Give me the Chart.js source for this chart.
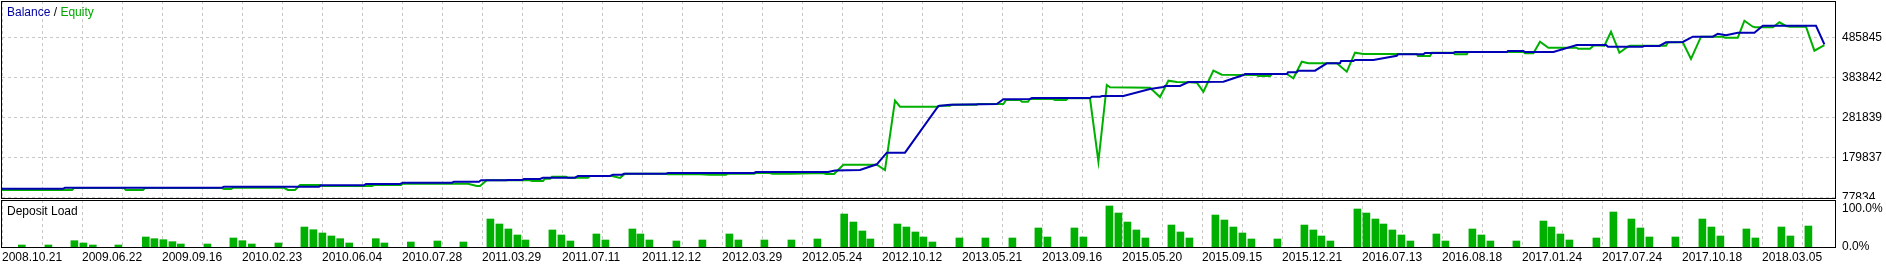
<!DOCTYPE html>
<html>
<head>
<meta charset="utf-8">
<script src="https://cdn.jsdelivr.net/npm/chart.js@4"></script>
<style>
	body { margin: 0; background: #fff; width: 1886px; height: 264px; overflow: hidden; position: relative;
		font-family: 'Liberation Sans', Arial, sans-serif; font-size: 12px; }
	canvas { position: absolute; left: 0; }
	#balance-chart { top: 0; }
	#load-chart { top: 199px; }
	.caption { position: absolute; left: 7px; line-height: 14px; white-space: pre; color: #000; }
</style>
</head>
<body>
<canvas id="balance-chart" width="1886" height="199"></canvas>
<canvas id="load-chart" width="1886" height="65"></canvas>
<div class="caption" style="top:5px"><span style="color:#0000a0">Balance</span> / <span style="color:#00a800">Equity</span></div>
<div class="caption" style="top:204px">Deposit Load</div>
<script>
// deal dates shown under every second grid line
var dates = ['2008.10.21', '2009.06.22', '2009.09.16', '2010.02.23', '2010.06.04', '2010.07.28',
	'2011.03.29', '2011.07.11', '2011.12.12', '2012.03.29', '2012.05.24', '2012.10.12', '2013.05.21',
	'2013.09.16', '2015.05.20', '2015.09.15', '2015.12.21', '2016.07.13', '2016.08.18', '2017.01.24',
	'2017.07.24', '2017.10.18', '2018.03.05']
var money_ticks = [77834, 179837, 281839, 383842, 485845]
var load_ticks = [0, 100]

// balance curve, deal number -> money
var balance_deal = [0, 30.5, 31.5, 110, 111, 158.5, 159.5, 181, 182, 199, 200.5, 225, 226, 238.5, 239.5, 252, 253, 260, 261, 269,
	270.5, 286.5, 288, 304, 305.5, 310, 311, 332, 333, 376, 377, 413, 416.5, 429, 437.4, 442.4, 451.5, 468.2, 474, 497.4,
	500.7, 514, 515, 544, 545, 549, 550, 560.7, 574, 580.7, 581.5, 589, 593.2, 610.7, 620.7, 621.5, 642.4, 643, 647.4, 648,
	656.5, 662.4, 669, 669.5, 675.7, 676.5, 685.7, 697.4, 698, 710.7, 711.5, 725.7, 726.5, 752.4, 753, 760.7, 761.5, 775.7, 787.4, 802,
	803, 820.4, 821, 828.7, 832, 840.4, 845.4, 855.4, 857.9, 862, 867.9, 876.2, 880.4, 907, 911.2]
var balance = [100000, 100000, 102800, 102800, 105400, 105400, 108900, 108900, 112300, 112300, 115600, 115600, 118100, 118100, 121700, 121700, 122500, 122500, 125000, 125000,
	128300, 128300, 132700, 132700, 136000, 136000, 138500, 138500, 140300, 140300, 142900, 142900, 146700, 148000, 162500, 192100, 192100, 311200, 314500, 316300,
	328300, 329000, 331600, 331600, 334900, 334900, 336700, 336700, 354500, 359600, 362200, 362200, 372400, 373100, 390200, 392800, 392800, 397100, 397100, 401200,
	401200, 420100, 420100, 425900, 425900, 428500, 428500, 439400, 443000, 443000, 446300, 446300, 448900, 448900, 451400, 451400, 448900, 448900, 466700, 466700,
	462400, 462400, 464200, 464200, 473600, 474400, 487900, 487900, 495500, 491500, 498100, 498100, 515900, 515900, 468500]

// equity curve
var equity_deal = [0, 35, 36, 61, 62, 70.5, 71.5, 110, 111, 114.5, 115.5, 141, 143, 146.5, 149, 159, 160, 185, 186, 199.5,
	200.5, 233, 237.4, 239, 242.4, 264, 265, 270.5, 271.5, 274, 275, 282, 283, 293, 294, 305, 309, 311.5, 332, 333,
	349, 354, 362, 363, 376, 377, 384, 385, 394, 410.5, 412, 416, 420.7, 437.4, 441.5, 446.5, 449, 468, 469, 474,
	475, 487.4, 488, 500.7, 502, 509, 510, 513, 514, 525.5, 526.5, 532, 533, 544, 548.2, 552.4, 554, 574, 579, 583.2,
	587.4, 594, 597.4, 600.7, 605.7, 609.9, 627.4, 628, 634, 635, 642.4, 645.7, 649.9, 653.2, 667.4, 672.4, 676.5, 680.7, 707.4, 708,
	714, 715, 725.7, 726.5, 732.4, 733, 760.7, 761.5, 765.7, 769, 773.2, 787.4, 788, 794, 796, 801.2, 804.5, 808.7, 812.9, 814,
	832, 833, 840.4, 844.5, 849.5, 860.4, 861.5, 867.9, 871.2, 875.4, 876.5, 885.4, 888.7, 892, 894, 902, 906.2, 911.2]
var equity = [97000, 97000, 102100, 102100, 97000, 97000, 102100, 102100, 99500, 99500, 102600, 102600, 97000, 97000, 109700, 109700, 107200, 107200, 109700, 109700,
	113000, 113000, 107200, 107200, 121700, 121700, 119900, 119900, 125800, 125800, 130900, 130900, 128300, 128300, 132700, 132700, 127600, 138500, 138500, 137000,
	137000, 136000, 136000, 138500, 138500, 140300, 140300, 138500, 138500, 140300, 137800, 137800, 161500, 161500, 148000, 324700, 309400, 309400, 311900, 311900,
	314500, 314500, 316300, 316300, 326500, 326500, 322100, 322100, 329000, 329000, 326500, 326500, 330800, 330800, 169100, 364700, 358900, 357800, 334100, 375700,
	372400, 371600, 370600, 347600, 401200, 391000, 390200, 387700, 387700, 392800, 392800, 381800, 424100, 420100, 420100, 398600, 447100, 443800, 443800, 438700,
	438700, 447100, 447100, 443000, 443000, 448900, 448900, 445600, 445600, 475100, 459800, 459800, 457300, 457300, 466000, 464900, 500600, 447100, 462400, 464900,
	464900, 473600, 473600, 431000, 487900, 487900, 485300, 485300, 528700, 513400, 511900, 511900, 524600, 515200, 513400, 513400, 452200, 466700]

// deposit load bars, percent
var load_deal = [9.9, 23.2, 36.2, 40.7, 45.4, 58.2, 71.9, 76.2, 80.7, 85.2, 89.4, 102.7, 115.7, 120.2, 124.9, 138.2, 151.2, 155.7, 160.2, 164.7,
	169.1, 173.6, 186.9, 191.2, 204.4, 217.7, 230.7, 244.2, 248.7, 253.2, 257.7, 261.7, 275.2, 279.7, 284.2, 297.2, 301.7, 315.2, 319.2, 323.7,
	337.2, 350.2, 363.7, 368.2, 381.2, 394.7, 407.7, 421.1, 425.7, 430.2, 434.2, 447.7, 452.2, 456.7, 460.7, 465.2, 478.7, 491.7, 505.2, 518.2,
	522.7, 536.2, 540.7, 553.7, 558.2, 562.7, 567.2, 571.7, 584.7, 589.2, 593.7, 606.7, 611.2, 615.7, 620.2, 624.7, 637.7, 651.2, 655.7, 659.7,
	664.2, 677.7, 682.2, 686.7, 690.7, 695.2, 699.7, 704.2, 717.2, 721.7, 735.2, 739.7, 744.2, 757.2, 770.7, 774.7, 779.2, 783.7, 797.2, 805.7,
	814.7, 819.2, 823.7, 836.7, 850.2, 854.7, 859.2, 872.2, 876.7, 889.7, 894.2, 903.2]
var load = [5.2, 5.2, 16.4, 10.4, 5.2, 5.2, 26, 21.6, 19, 13.8, 7.8, 7.8, 23.4, 16.4, 7.8, 10.4, 51.9, 44.9, 36.4, 28.6,
	21.6, 10.4, 21.6, 10.4, 13, 15.6, 13, 72.7, 59.7, 46.8, 31.2, 18.2, 44.2, 31.2, 15.6, 33.8, 18.2, 46.8, 33.8, 18.2,
	15.6, 18.2, 33.8, 18.2, 18.2, 18.2, 20.8, 85.7, 64.9, 41.6, 20.8, 59.7, 51.9, 39, 26, 13, 23.4, 23.4, 23.4, 49.4,
	26, 49.4, 26, 106.5, 88.3, 64.9, 44.2, 23.4, 57.1, 39, 23.4, 83.1, 70.1, 51.9, 36.4, 20.8, 20.8, 57.1, 44.2, 28.6,
	15.6, 98.7, 88.3, 72.7, 59.7, 44.2, 31.2, 15.6, 33.8, 15.6, 46.8, 31.2, 15.6, 15.6, 67.5, 51.9, 33.8, 18.2, 23.4, 90.9,
	72.7, 49.4, 26, 26, 72.7, 51.9, 28.6, 46.8, 23.4, 51.9, 28.6, 54.5]

var GRID = '#c8c8c8'
var BLUE = '#0000b4'
var GREEN = '#00b000'
var FONT = { family: "'Liberation Sans', Arial, sans-serif", size: 12 }

var grid_deals = []
for (var d = 0; d <= 900; d += 20) grid_deals.push(d)

function points(xs, ys) {
	return xs.map((x, i) => ({ x: x, y: ys[i] }))
}

// black frame round each panel
var frame = {
	id: 'frame',
	afterDraw: function(chart) {
		var a = chart.chartArea
		var ctx = chart.ctx
		ctx.save()
		ctx.strokeStyle = '#000'
		ctx.lineWidth = 1
		ctx.strokeRect(a.left - 0.5, a.top + 0.5, a.right - a.left, a.bottom - a.top)
		ctx.restore()
	}
}

function deal_axis(show_labels) {
	return {
		type: 'linear', min: 0, max: 917, offset: false,
		grid: { color: GRID, drawTicks: false, offset: false },
		border: { display: false, dash: [3, 3] },
		ticks: {
			display: show_labels, autoSkip: false, maxRotation: 0, minRotation: 0,
			align: 'start', padding: 3, color: '#000', font: FONT,
			callback: (v) => v % 40 === 0 ? dates[v / 40] : ''
		},
		afterBuildTicks: (s) => { s.ticks = grid_deals.map((v) => ({ value: v })) },
		afterFit: (s) => { s.height = show_labels ? 17 : 0; s.paddingLeft = 0; s.paddingRight = 0 }
	}
}

function value_axis(min, max, values, fmt, show_grid) {
	return {
		position: 'right', min: min, max: max,
		grid: { display: show_grid, color: GRID, drawTicks: false },
		border: { display: false, dash: [3, 3] },
		ticks: { padding: 6, color: '#000', font: FONT, autoSkip: false, callback: fmt },
		afterBuildTicks: (s) => { s.ticks = values.map((v) => ({ value: v })) },
		afterFit: (s) => { s.width = 50; s.paddingTop = 0; s.paddingBottom = 0 }
	}
}

new Chart(document.getElementById('balance-chart'), {
	type: 'line',
	data: {
		datasets: [
			{ label: 'Balance', data: points(balance_deal, balance), borderColor: BLUE, borderWidth: 2, pointRadius: 0, tension: 0 },
			{ label: 'Equity', data: points(equity_deal, equity), borderColor: GREEN, borderWidth: 2, pointRadius: 0, tension: 0 }
		]
	},
	options: {
		animation: false, responsive: false, devicePixelRatio: 1,
		layout: { padding: { top: 1, left: 2, right: 0, bottom: 1 } },
		plugins: { legend: { display: false }, tooltip: { enabled: false } },
		scales: {
			x: deal_axis(false),
			y: value_axis(76559, 578923, money_ticks, (v) => String(v), true)
		}
	},
	plugins: [frame]
})

new Chart(document.getElementById('load-chart'), {
	type: 'bar',
	data: {
		datasets: [
			{ label: 'Deposit Load', data: points(load_deal, load), backgroundColor: GREEN, borderWidth: 0, barThickness: 7 }
		]
	},
	options: {
		animation: false, responsive: false, devicePixelRatio: 1,
		layout: { padding: { top: 1, left: 2, right: 0, bottom: 0 } },
		plugins: { legend: { display: false }, tooltip: { enabled: false } },
		scales: {
			x: deal_axis(true),
			y: value_axis(0, 122.1, load_ticks, (v) => v.toFixed(1) + '%', false)
		}
	},
	plugins: [frame]
})
</script>
</body>
</html>
